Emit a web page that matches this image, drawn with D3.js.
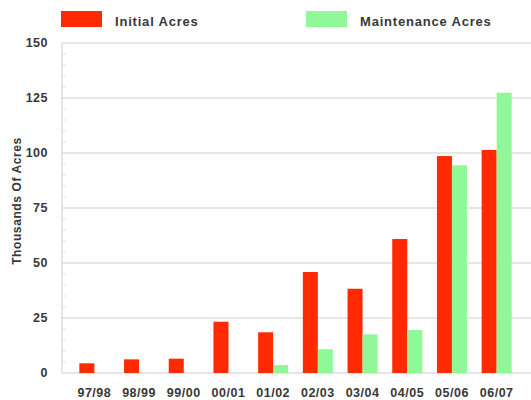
<!DOCTYPE html>
<html>
<head>
<script src="https://cdn.jsdelivr.net/npm/d3@7"></script>
<style>
  html, body { margin: 0; padding: 0; background: #fff; }
  text { font-family: "Liberation Sans", Arial, sans-serif; font-weight: bold; fill: #383838; letter-spacing: 0.5px; }
</style>
</head>
<body>
<script>
var w = 531, h = 400;

var years = ["97/98","98/99","99/00","00/01","01/02","02/03","03/04","04/05","05/06","06/07"];
var initialAcres = [4.4, 6.2, 6.5, 23.3, 18.5, 45.9, 38.3, 60.9, 98.6, 101.4];
var maintenanceAcres = [0, 0, 0, 0, 3.6, 10.8, 17.6, 19.5, 94.4, 127.4];
var yTicks = [0, 25, 50, 75, 100, 125, 150];

var seriesNames = ["Initial Acres", "Maintenance Acres"];
var seriesColors = ["#ff2a00", "#90f898"];

// note: "top" is reserved on window, so use plot* names
var plotLeft = 62, plotRight = 531, plotTop = 43, plotBottom = 373;

var svg = d3.select("body").append("svg").attr("width", w).attr("height", h);

var x = d3.scaleBand().domain(years).range([72, 519]);
var y = d3.scaleLinear().domain([0, 150]).range([plotBottom, plotTop]);
var barW = 15;

// gridlines
svg.append("g").selectAll("line")
  .data(yTicks.slice(1))
  .enter().append("line")
  .attr("x1", plotLeft).attr("x2", plotRight)
  .attr("y1", function(d){ return y(d); })
  .attr("y2", function(d){ return y(d); })
  .attr("stroke", "#e6e6e6").attr("stroke-width", 2);

// minor ticks on the left axis
svg.append("g").selectAll("line")
  .data(d3.range(0, 151, 5).filter(function(d){ return d % 25 != 0; }))
  .enter().append("line")
  .attr("x1", plotLeft).attr("x2", plotLeft + 4)
  .attr("y1", function(d){ return y(d); })
  .attr("y2", function(d){ return y(d); })
  .attr("stroke", "#e0e0e0").attr("stroke-width", 1);

// axis lines
svg.append("line").attr("x1", plotLeft).attr("x2", plotLeft).attr("y1", plotTop).attr("y2", plotBottom)
  .attr("stroke", "#dcdcdc").attr("stroke-width", 1.5);
svg.append("line").attr("x1", plotLeft).attr("x2", plotRight).attr("y1", plotBottom).attr("y2", plotBottom)
  .attr("stroke", "#dcdcdc").attr("stroke-width", 1.5);

// bars
function center(d){ return x(d) + x.bandwidth() / 2; }

svg.append("g").selectAll("rect")
  .data(years)
  .enter().append("rect")
  .attr("x", function(d){ return center(d) - barW; })
  .attr("y", function(d, i){ return y(initialAcres[i]); })
  .attr("width", barW)
  .attr("height", function(d, i){ return y(0) - y(initialAcres[i]); })
  .attr("fill", seriesColors[0]);

svg.append("g").selectAll("rect")
  .data(years)
  .enter().append("rect")
  .attr("x", function(d){ return center(d); })
  .attr("y", function(d, i){ return y(maintenanceAcres[i]); })
  .attr("width", barW)
  .attr("height", function(d, i){ return y(0) - y(maintenanceAcres[i]); })
  .attr("fill", seriesColors[1]);

// y labels
svg.append("g").selectAll("text")
  .data(yTicks)
  .enter().append("text")
  .attr("x", 48)
  .attr("y", function(d){ return y(d) + 4; })
  .attr("text-anchor", "end")
  .attr("font-size", "12.5px")
  .text(function(d){ return d; });

// x labels
svg.append("g").selectAll("text")
  .data(years)
  .enter().append("text")
  .attr("x", function(d){ return center(d); })
  .attr("y", 397)
  .attr("text-anchor", "middle")
  .attr("font-size", "12.5px")
  .text(function(d){ return d; });

// y title
svg.append("text")
  .attr("transform", "translate(21,201) rotate(-90)")
  .attr("text-anchor", "middle")
  .attr("font-size", "12px")
  .style("letter-spacing", "0.6px")
  .text("Thousands Of Acres");

// legend
var legendX = [61, 306];
seriesNames.forEach(function(name, i){
  svg.append("rect")
    .attr("x", legendX[i]).attr("y", 11)
    .attr("width", 41).attr("height", 16)
    .attr("fill", seriesColors[i]);
  svg.append("text")
    .attr("x", legendX[i] + 54).attr("y", 26)
    .attr("font-size", "13px")
    .style("letter-spacing", "0.8px")
    .text(name);
});
</script>
</body>
</html>
